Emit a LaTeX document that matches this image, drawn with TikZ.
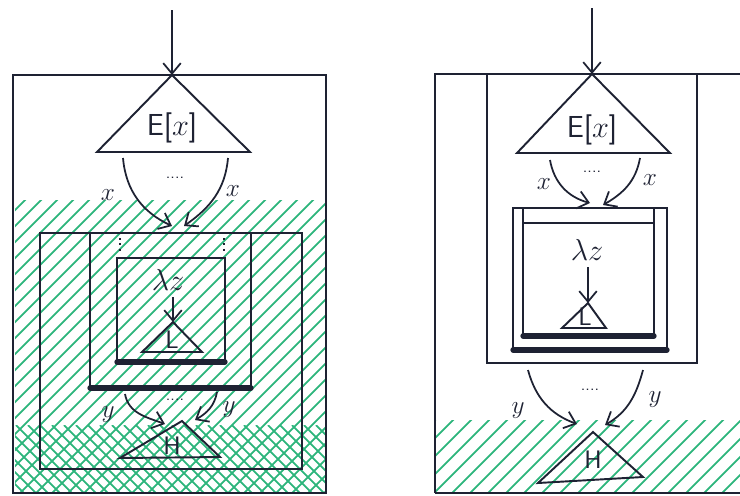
\documentclass[tikz,border=0pt]{standalone}
\usepackage{tikz}
\usetikzlibrary{arrows.meta}
\definecolor{HatchGreen}{HTML}{2DB57C}
\definecolor{Ink}{HTML}{1E2233}

\begin{document}
\begin{tikzpicture}[x=0.02cm, y=-0.02cm, line width=1.1pt, color=Ink,
    every node/.style={font=\sffamily\LARGE, text=Ink},
    flow/.style={-{Straight Barb[length=6pt,width=10pt]}, line width=1pt},
    hatch/.style={HatchGreen, line width=1pt},
    floor/.style={line width=3pt, line cap=round},
    lbl/.style={font=\sffamily\Large},
    dots/.style={font=\sffamily\small}]
    \useasboundingbox (0,0) rectangle (740,495);

    % Hatching, left
    \begin{scope}
        \clip (15,200) rectangle (326,493);
        \foreach \i in {-300,-284,...,330}
            \draw[hatch] (\i,493) -- ++(300,-300);
    \end{scope}
    \begin{scope}
        \clip (15,425) rectangle (326,493);
        \foreach \i in {-80,-68,...,330}
            \draw[hatch] (\i,425) -- ++(80,80);
    \end{scope}

    % Hatching, right
    \begin{scope}
        \clip (435,420) rectangle (740,493);
        \foreach \i in {362,380,...,760}
            \draw[hatch] (\i,493) -- ++(100,-100);
    \end{scope}

    % Left frame
    \draw (13,493) rectangle (326,75);
    \coordinate (inL) at (172,10);
    \coordinate (eL) at (172,75);
    \draw (eL) -- (97,152) -- (250,152) -- cycle;
    \node (exprL) at (172,128) {E[$x$]};
    \draw[flow] (inL) -- (eL);

    % Left boxes
    \draw (40,233) rectangle (302,469);
    \draw (90,233) rectangle (251,388);
    \draw (117,258) rectangle (225,362);
    \draw[floor] (90,388) -- (251,388);
    \draw[floor] (117,362) -- (225,362);
    \draw[dotted] (120,238) -- (120,254);
    \draw[dotted] (224,238) -- (224,254);

    % x arrows, left
    \coordinate (xoL1) at (123,158);
    \coordinate (xoL2) at (228,158);
    \coordinate (xiL1) at (172,226);
    \coordinate (xiL2) at (184,226);
    \draw[flow] (xoL1) to[out=-85,in=155] (xiL1);
    \draw[flow] (xoL2) to[out=-95,in=35] (xiL2);
    \node[lbl] (xlabL1) at (108,195) {$x$};
    \node[lbl] (xlabL2) at (233,191) {$x$};
    \node[dots] (dotsL1) at (175,178) {....};

    % lambda and L, left
    \node (lamL) at (168,280) {$\lambda z$};
    \coordinate (lL) at (173,322);
    \draw[flow] (lamL.south -| lL) -- (lL);
    \draw (lL) -- (142,352) -- (202,352) -- cycle;
    \node[lbl] (libL) at (172,340) {L};

    % y arrows and H, left
    \coordinate (yoL1) at (125,394);
    \coordinate (yoL2) at (217,392);
    \coordinate (yiL1) at (165,424);
    \coordinate (yiL2) at (195,420);
    \draw[flow] (yoL1) to[out=-80,in=160] (yiL1);
    \draw[flow] (yoL2) to[out=-100,in=30] (yiL2);
    \node[lbl] (ylabL1) at (108,414) {$y$};
    \node[lbl] (ylabL2) at (229,409) {$y$};
    \node[dots] (dotsL2) at (175,400) {....};
    \coordinate (hL) at (182,421);
    \draw (hL) -- (120,458) -- (220,457) -- cycle;
    \node[lbl] (HL) at (172,446) {H};

    % Right frame
    \draw (435,493) -- (435,74) -- (745,74);
    \draw (435,493) -- (745,493);
    \draw (487,74) -- (487,363) -- (697,363) -- (697,74);
    \coordinate (inR) at (592,8);
    \coordinate (eR) at (592,74);
    \draw (eR) -- (517,153) -- (670,153) -- cycle;
    \node (exprR) at (592,130) {E[$x$]};
    \draw[flow] (inR) -- (eR);

    % Right boxes
    \draw (513,208) rectangle (667,350);
    \draw (523,208) -- (523,336) -- (654,336) -- (654,208);
    \draw (523,223) -- (654,223);
    \draw[floor] (513,350) -- (667,350);
    \draw[floor] (523,336) -- (654,336);

    % x arrows, right
    \coordinate (xoR1) at (550,160);
    \coordinate (xoR2) at (640,158);
    \coordinate (xiR1) at (590,203);
    \coordinate (xiR2) at (603,205);
    \draw[flow] (xoR1) to[out=-80,in=165] (xiR1);
    \draw[flow] (xoR2) to[out=-100,in=30] (xiR2);
    \node[lbl] (xlabR1) at (544,184) {$x$};
    \node[lbl] (xlabR2) at (650,180) {$x$};
    \node[dots] (dotsR1) at (592,172) {....};

    % lambda and L, right
    \node (lamR) at (587,250) {$\lambda z$};
    \coordinate (lR) at (588,303);
    \draw[flow] (lamR.south -| lR) -- (lR);
    \draw (lR) -- (562,328) -- (606,328) -- cycle;
    \node[lbl] (libR) at (585,317) {L};

    % y arrows and H, right
    \coordinate (yoR1) at (528,370);
    \coordinate (yoR2) at (643,370);
    \coordinate (yiR1) at (577,424);
    \coordinate (yiR2) at (605,425);
    \draw[flow] (yoR1) to[out=-75,in=160] (yiR1);
    \draw[flow] (yoR2) to[out=-105,in=30] (yiR2);
    \node[lbl] (ylabR1) at (518,410) {$y$};
    \node[lbl] (ylabR2) at (655,400) {$y$};
    \node[dots] (dotsR2) at (590,390) {....};
    \coordinate (hR) at (593,432);
    \draw (hR) -- (538,483) -- (643,477) -- cycle;
    \node[lbl] (HR) at (593,460) {H};
\end{tikzpicture}
\end{document}
